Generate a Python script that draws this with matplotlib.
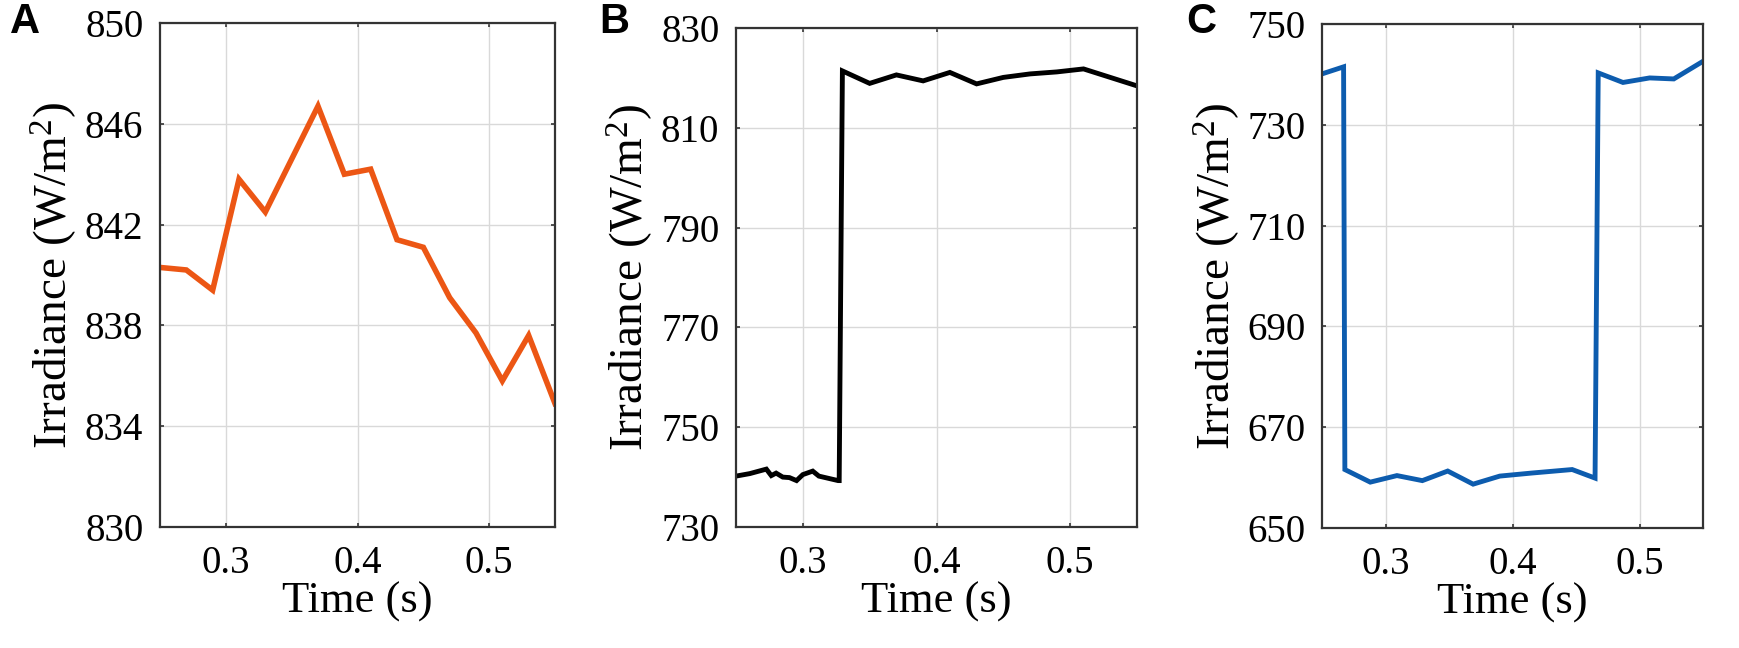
import matplotlib
matplotlib.use('Agg')
import matplotlib.pyplot as plt

plt.rcParams['mathtext.fontset'] = 'custom'
plt.rcParams['mathtext.rm'] = 'Liberation Serif'
plt.rcParams['mathtext.it'] = 'Liberation Serif:italic'

# panel A: smooth irradiance
t_a = [0.25, 0.27, 0.29, 0.31, 0.33, 0.35, 0.37, 0.39, 0.41, 0.43, 0.45, 0.47, 0.49, 0.51, 0.53, 0.55]
g_a = [840.3, 840.2, 839.4, 843.8, 842.5, 844.6, 846.7, 844.0, 844.2, 841.4, 841.1, 839.1, 837.7, 835.8, 837.6, 834.9]

# panel B: step up
t_b = [0.25, 0.2603, 0.2727, 0.2764, 0.280, 0.285, 0.290, 0.2953, 0.300, 0.3074, 0.312, 0.320, 0.3264, 0.3272,
       0.3296, 0.35, 0.37, 0.39, 0.41, 0.43, 0.45, 0.47, 0.49, 0.51, 0.55]
g_b = [740.2, 740.7, 741.6, 740.3, 740.8, 740.0, 739.9, 739.3, 740.5, 741.2, 740.2, 739.7, 739.3, 739.3,
       821.4, 818.9, 820.6, 819.4, 821.1, 818.8, 820.1, 820.8, 821.2, 821.8, 818.4]

# panel C: step down then up
t_c = [0.25, 0.267, 0.268, 0.288, 0.309, 0.329, 0.349, 0.369, 0.390, 0.415, 0.447, 0.465, 0.4675,
       0.487, 0.508, 0.527, 0.55]
g_c = [740.1, 741.5, 661.6, 659.1, 660.4, 659.4, 661.3, 658.7, 660.3, 660.9, 661.6, 659.9, 740.3,
       738.4, 739.3, 739.1, 742.6]

xticks = [0.3, 0.4, 0.5]
yticks_a = [830, 834, 838, 842, 846, 850]
yticks_b = [730, 750, 770, 790, 810, 830]
yticks_c = [650, 670, 690, 710, 730, 750]

W, H = 1739, 648
fig = plt.figure(figsize=(W / 100, H / 100), dpi=100)

panels = [
    # left, top, right, bottom in pixels
    ((160, 23, 555, 527), t_a, g_a, yticks_a, '#EC5614', 4.0, 'A', 10),
    ((736, 28, 1137, 527), t_b, g_b, yticks_b, 'black', 3.5, 'B', 599),
    ((1322, 24, 1703, 528), t_c, g_c, yticks_c, '#0D5CAE', 3.5, 'C', 1186),
]

for (l, t, r, b), x, y, yt, col, lw, letter, lx in panels:
    ax = fig.add_axes([l / W, 1 - b / H, (r - l) / W, (b - t) / H])
    ax.plot(x, y, color=col, lw=lw, solid_joinstyle='miter')
    ax.set_xlim(0.25, 0.55)
    ax.set_ylim(yt[0], yt[-1])
    ax.set_xticks(xticks)
    ax.set_xticklabels(['0.3', '0.4', '0.5'])
    ax.set_yticks(yt)
    ax.grid(True, color='#d9d9d9', lw=1.0)
    ax.set_axisbelow(True)
    for s in ax.spines.values():
        s.set_color('#333333')
        s.set_linewidth(1.6)
    ax.tick_params(direction='in', length=3, width=1.2, top=True, right=True,
                   labelsize=28, colors='#333333', labelcolor='black')
    ax.tick_params(axis='x', pad=13)
    ax.tick_params(axis='y', pad=12)
    for lab in ax.get_xticklabels() + ax.get_yticklabels():
        lab.set_family('Liberation Serif')
    ax.set_xlabel('Time (s)', fontsize=32, family='Liberation Serif', labelpad=0)
    ax.set_ylabel('Irradiance (W/m$^2$)', fontsize=34, family='Liberation Serif', labelpad=4)
    fig.text(lx / W, 1 - 33 / H, letter, fontsize=30, fontweight='bold',
             family='Liberation Sans', ha='left', va='baseline')

fig.savefig('out.png', dpi=100)
